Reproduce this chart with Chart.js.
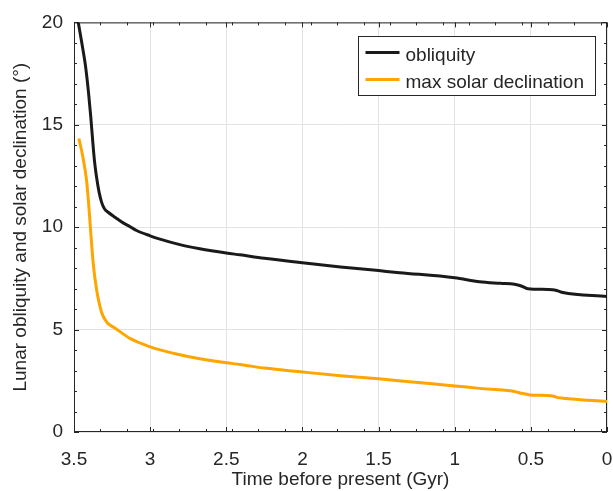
<!DOCTYPE html>
<html>
<head>
<meta charset="utf-8">
<script src="https://cdn.jsdelivr.net/npm/chart.js@4.4.1/dist/chart.umd.min.js"></script>
<style>
  html, body { margin: 0; padding: 0; background: #fff; }
  #wrap { width: 613px; height: 491px; }
</style>
</head>
<body>
<div id="wrap"><canvas id="chart"></canvas></div>
<script>
// time before present (Gyr)
const obliquityTime = [0.0, 0.29, 0.323, 0.356, 0.52, 0.563, 0.607, 0.70, 0.837, 1.0, 1.362, 1.5, 1.75, 2.0, 2.25, 2.411, 2.5, 2.674, 2.805, 2.941, 3.0, 3.089, 3.133, 3.177, 3.232, 3.276, 3.30, 3.318, 3.335, 3.352, 3.365, 3.377, 3.39, 3.405, 3.425, 3.45, 3.472];
const obliquity = [6.62, 6.81, 6.89, 6.95, 7.00, 7.13, 7.21, 7.26, 7.34, 7.53, 7.78, 7.88, 8.06, 8.26, 8.48, 8.65, 8.74, 8.95, 9.15, 9.43, 9.58, 9.84, 10.03, 10.21, 10.49, 10.73, 10.9, 11.2, 11.7, 12.45, 13.2, 14.2, 15.4, 16.6, 17.9, 19.05, 20.0];

const solarTime = [0.0, 0.29, 0.323, 0.356, 0.49, 0.52, 0.563, 0.607, 0.837, 1.0, 1.296, 1.5, 1.75, 2.0, 2.25, 2.411, 2.5, 2.674, 2.805, 2.941, 3.0, 3.067, 3.133, 3.232, 3.276, 3.290, 3.319, 3.352, 3.374, 3.391, 3.402, 3.417, 3.440, 3.468];
const solarDecl = [1.49, 1.65, 1.68, 1.76, 1.80, 1.83, 1.89, 1.98, 2.13, 2.25, 2.45, 2.60, 2.75, 2.93, 3.12, 3.30, 3.38, 3.58, 3.77, 4.02, 4.16, 4.35, 4.57, 5.08, 5.29, 5.42, 5.85, 6.97, 8.25, 9.85, 10.97, 12.25, 13.37, 14.33];

const seriesLabels = ["obliquity", "max solar declination"];
const xTicks = [3.5, 3, 2.5, 2, 1.5, 1, 0.5, 0];
const yTicks = [0, 5, 10, 15, 20];

const FONT = '"Liberation Sans", Arial, Helvetica, sans-serif';
const INK = "#262626";

function toPoints(xs, ys) {
  return xs.map((x, i) => ({ x: x, y: ys[i] }));
}

// box + inward ticks on all four sides (matlab style)
const framePlugin = {
  id: "frame",
  beforeDatasetsDraw(chart) {
    const { ctx, chartArea: a, scales } = chart;
    const x = scales.x, y = scales.y;
    ctx.save();
    ctx.strokeStyle = INK;
    ctx.lineWidth = 1;
    ctx.beginPath();
    for (let v = 0; v <= 20; v += 1) {
      const py = Math.round(y.getPixelForValue(v)) + 0.5;
      const len = yTicks.includes(v) ? 5 : 3;
      ctx.moveTo(a.left, py); ctx.lineTo(a.left + len, py);
      ctx.moveTo(a.right, py); ctx.lineTo(a.right - len, py);
    }
    for (let k = 0; k <= 20; k++) {
      const px = Math.round(x.getPixelForValue(3.5 - k * 0.1729)) + 0.5;
      ctx.moveTo(px, a.bottom); ctx.lineTo(px, a.bottom - 3);
      ctx.moveTo(px, a.top); ctx.lineTo(px, a.top + 3);
    }
    xTicks.forEach((v) => {
      const px = Math.round(x.getPixelForValue(v)) + 0.5;
      ctx.moveTo(px, a.bottom); ctx.lineTo(px, a.bottom - 5);
      ctx.moveTo(px, a.top); ctx.lineTo(px, a.top + 5);
    });
    ctx.stroke();
    ctx.strokeRect(a.left + 0.5, a.top + 0.5, a.right - a.left - 1, a.bottom - a.top - 1);
    ctx.restore();
  },
};

const legendPlugin = {
  id: "boxLegend",
  afterDraw(chart) {
    const { ctx, chartArea: a } = chart;
    const w = 237, h = 59;
    const bx = Math.round(a.right - 12 - w) + 0.5;
    const by = Math.round(a.top + 14) + 0.5;
    ctx.save();
    ctx.fillStyle = "#fff";
    ctx.fillRect(bx, by, w, h);
    ctx.strokeStyle = INK;
    ctx.lineWidth = 1;
    ctx.strokeRect(bx, by, w, h);
    ctx.font = "19px " + FONT;
    ctx.textBaseline = "alphabetic";
    chart.data.datasets.forEach((ds, i) => {
      const ly = by + 16 + i * 27;
      ctx.strokeStyle = ds.borderColor;
      ctx.lineWidth = 3;
      ctx.beginPath();
      ctx.moveTo(bx + 7, ly);
      ctx.lineTo(bx + 41, ly);
      ctx.stroke();
      ctx.fillStyle = INK;
      ctx.fillText(ds.label, bx + 47, ly + 8);
    });
    ctx.restore();
  },
};

new Chart(document.getElementById("chart"), {
  type: "line",
  data: {
    datasets: [
      {
        label: seriesLabels[0],
        data: toPoints(obliquityTime, obliquity),
        borderColor: "#1a1a1a",
        borderWidth: 3,
        pointRadius: 0,
        cubicInterpolationMode: "monotone",
        fill: false,
      },
      {
        label: seriesLabels[1],
        data: toPoints(solarTime, solarDecl),
        borderColor: "#ffa500",
        borderWidth: 3,
        pointRadius: 0,
        cubicInterpolationMode: "monotone",
        fill: false,
      },
    ],
  },
  options: {
    responsive: true,
    maintainAspectRatio: false,
    animation: false,
    layout: { padding: { left: 0, right: 6, top: 15, bottom: 0 } },
    plugins: {
      legend: { display: false },
      tooltip: { enabled: false },
    },
    scales: {
      x: {
        type: "linear",
        reverse: true,
        min: 0,
        max: 3.5,
        afterBuildTicks: (s) => { s.ticks = xTicks.map((v) => ({ value: v })); },
        afterFit: (s) => { s.height = 59; s.paddingLeft = 0; s.paddingRight = 0; },
        ticks: {
          color: INK,
          padding: 16,
          maxRotation: 0,
          callback: (v) => String(v),
          font: { family: FONT, size: 19, lineHeight: 1.2 },
        },
        grid: { color: "#e3e3e3", drawTicks: false },
        border: { display: false },
        title: {
          display: true,
          text: "Time before present (Gyr)",
          color: INK,
          font: { family: FONT, size: 19, lineHeight: 1.2 },
          padding: { top: 0, bottom: 0 },
        },
      },
      y: {
        min: 0,
        max: 20,
        afterBuildTicks: (s) => { s.ticks = yTicks.map((v) => ({ value: v })); },
        afterFit: (s) => { s.width = 74; },
        ticks: {
          color: INK,
          padding: 11,
          callback: (v) => String(v),
          font: { family: FONT, size: 19, lineHeight: 1.2 },
        },
        grid: { color: "#e3e3e3", drawTicks: false },
        border: { display: false },
        title: {
          display: true,
          text: "Lunar obliquity and solar declination (°)",
          color: INK,
          font: { family: FONT, size: 19, lineHeight: 1.2 },
          padding: { top: 9, bottom: 0 },
        },
      },
    },
  },
  plugins: [framePlugin, legendPlugin],
});
</script>
</body>
</html>
